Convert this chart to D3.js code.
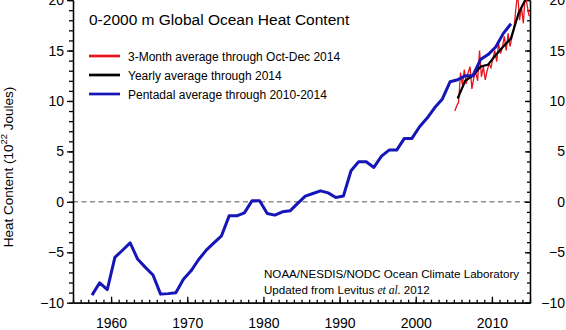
<!DOCTYPE html>
<html lang="en">
<head>
<meta charset="UTF-8">
<title>0-2000 m Global Ocean Heat Content</title>
<script src="https://cdn.jsdelivr.net/npm/d3@7/dist/d3.min.js"></script>
<style>
  body { margin: 0; background: #fff; }
  svg { display: block; font-family: "Liberation Sans", Arial, Helvetica, sans-serif; }
  .axis path, .axis line { fill: none; stroke: #000; stroke-width: 1.3px; }
  .axis text { font-size: 14px; fill: #000; font-family: "Liberation Sans", Arial, sans-serif; }
</style>
</head>
<body>
<script>
// pentadal averages (centred years), 10^22 J
var pentYears = d3.range(1957.5, 2013, 1);
var pentValues = [
  -9.25, -8.03, -8.7, -5.5, -4.8, -4.07, -5.7, -6.5, -7.25, -9.15,
  -9.1, -9.02, -7.67, -6.84, -5.72, -4.79, -4.07, -3.37, -1.39, -1.39,
  -1.09, 0.1, 0.1, -1.15, -1.32, -0.99, -0.89, -0.16, 0.57, 0.83,
  1.09, 0.89, 0.43, 0.57, 3.08, 3.97, 3.97, 3.41, 4.53, 5.13,
  5.13, 6.29, 6.29, 7.44, 8.3, 9.35, 10.2, 11.9, 12.1, 12.5,
  12.5, 14.1, 14.6, 15.35, 16.7, 17.65
];

// yearly averages
var yearYears = d3.range(2005.5, 2015, 1);
var yearValues = [10.25, 12.0, 12.5, 13.4, 13.6, 14.55, 15.4, 16.2, 18.7, 20.2];

// 3-month averages, Jan-Mar 2005 .. Oct-Dec 2014
var seasYears = d3.range(2005.125, 2015, 0.25);
var seasValues = [
  9.0, 9.5, 9.9, 12.8, 11.6, 13.1, 11.7, 12.8, 13.4, 11.2,
  12.3, 12.9, 12.0, 15.0, 12.4, 13.4, 12.1, 13.0, 13.7, 13.3,
  14.2, 15.0, 13.9, 15.7, 14.7, 15.3, 16.4, 15.0, 16.7, 15.4,
  16.3, 17.0, 19.0, 20.8, 18.0, 19.3, 17.7, 20.5, 19.5, 18.4
];

var xTicks = [1960, 1970, 1980, 1990, 2000, 2010];
var yTicks = [-10, -5, 0, 5, 10, 15, 20];

var legendLabels = [
  "3-Month average through Oct-Dec 2014",
  "Yearly average through 2014",
  "Pentadal average through 2010-2014"
];
var legendColors = ["#e8141c", "#000000", "#1515b8"];

var width = 566, height = 330;

var svg = d3.select("body").append("svg")
  .attr("width", width)
  .attr("height", height);

var x = d3.scaleLinear().domain([1955, 2015]).range([73, 530]);
var y = d3.scaleLinear().domain([-10, 20]).range([302.7, 0.1]);

// clip for data lines
svg.append("clipPath").attr("id", "plot")
  .append("rect")
  .attr("x", x(1955)).attr("y", y(20))
  .attr("width", x(2015) - x(1955)).attr("height", y(-10) - y(20));

// zero line
svg.append("line")
  .attr("x1", x(1955)).attr("x2", x(2015))
  .attr("y1", y(0)).attr("y2", y(0))
  .attr("stroke", "#555")
  .attr("stroke-width", 1)
  .attr("stroke-dasharray", "5,3.5");

// bottom axis: minor every year, major every decade, ticks pointing in
svg.append("g").attr("class", "axis")
  .attr("transform", "translate(0," + y(-10) + ")")
  .call(d3.axisBottom(x).tickValues(d3.range(1955, 2016, 1)).tickSize(-3).tickSizeOuter(0).tickFormat(""));
svg.append("g").attr("class", "axis")
  .attr("transform", "translate(0," + y(-10) + ")")
  .call(d3.axisBottom(x).tickValues(xTicks).tickSize(-6).tickSizeOuter(0).tickPadding(15).tickFormat(d3.format("d")));

// left axis, ticks pointing out
svg.append("g").attr("class", "axis")
  .attr("transform", "translate(" + x(1955) + ",0)")
  .call(d3.axisLeft(y).tickValues(d3.range(-10, 21, 1)).tickSize(4).tickSizeOuter(0).tickFormat(""));
svg.append("g").attr("class", "axis")
  .attr("transform", "translate(" + x(1955) + ",0)")
  .call(d3.axisLeft(y).tickValues(yTicks).tickSize(6).tickSizeOuter(0).tickPadding(3));

// right axis, ticks pointing in, labels right aligned at the edge
svg.append("g").attr("class", "axis")
  .attr("transform", "translate(" + x(2015) + ",0)")
  .call(d3.axisRight(y).tickValues(d3.range(-10, 21, 1)).tickSize(-3).tickSizeOuter(0).tickFormat(""));
var ra = svg.append("g").attr("class", "axis")
  .attr("transform", "translate(" + x(2015) + ",0)")
  .call(d3.axisRight(y).tickValues(yTicks).tickSize(-5).tickSizeOuter(0));
ra.selectAll("text").attr("x", 35).attr("text-anchor", "end");

// data lines
var line = d3.line()
  .x(function(d){ return x(d[0]); })
  .y(function(d){ return y(d[1]); });

var g = svg.append("g").attr("clip-path", "url(#plot)");

g.append("path")
  .datum(d3.zip(seasYears, seasValues))
  .attr("d", line)
  .attr("fill", "none")
  .attr("stroke", legendColors[0])
  .attr("stroke-width", 1.3);

g.append("path")
  .datum(d3.zip(yearYears, yearValues))
  .attr("d", line)
  .attr("fill", "none")
  .attr("stroke", legendColors[1])
  .attr("stroke-width", 2.2);

g.append("path")
  .datum(d3.zip(pentYears, pentValues))
  .attr("d", line)
  .attr("fill", "none")
  .attr("stroke", legendColors[2])
  .attr("stroke-width", 3)
  .attr("stroke-linejoin", "round");

// title
svg.append("text")
  .attr("x", 89).attr("y", 25)
  .attr("font-size", 15.5)
  .text("0-2000 m Global Ocean Heat Content");

// legend
var leg = svg.append("g")
  .selectAll("g")
  .data(legendLabels)
  .enter()
  .append("g")
  .attr("transform", function(d, i){ return "translate(89," + (56 + i * 19) + ")"; });

leg.append("line")
  .attr("x1", 0).attr("x2", 31)
  .attr("stroke", function(d, i){ return legendColors[i]; })
  .attr("stroke-width", 2.7);

leg.append("text")
  .attr("x", 39).attr("y", 5)
  .attr("font-size", 12)
  .text(function(d){ return d; });

// y axis title
var yt = svg.append("text")
  .attr("transform", "translate(13,167) rotate(-90)")
  .attr("text-anchor", "middle")
  .attr("font-size", 13.5);
yt.append("tspan").text("Heat Content (10");
yt.append("tspan").attr("font-size", 9.5).attr("dy", -6).text("22");
yt.append("tspan").attr("dy", 6).text(" Joules)");

// credits
svg.append("text")
  .attr("x", 264).attr("y", 278)
  .attr("font-size", 11.6)
  .text("NOAA/NESDIS/NODC Ocean Climate Laboratory");
var cr = svg.append("text")
  .attr("x", 264).attr("y", 294)
  .attr("font-size", 11.6);
cr.append("tspan").text("Updated from Levitus ");
cr.append("tspan").attr("font-family", "'Liberation Serif', 'Times New Roman', serif").attr("font-style", "italic").text("et al.");
cr.append("tspan").text(" 2012");
</script>
</body>
</html>
